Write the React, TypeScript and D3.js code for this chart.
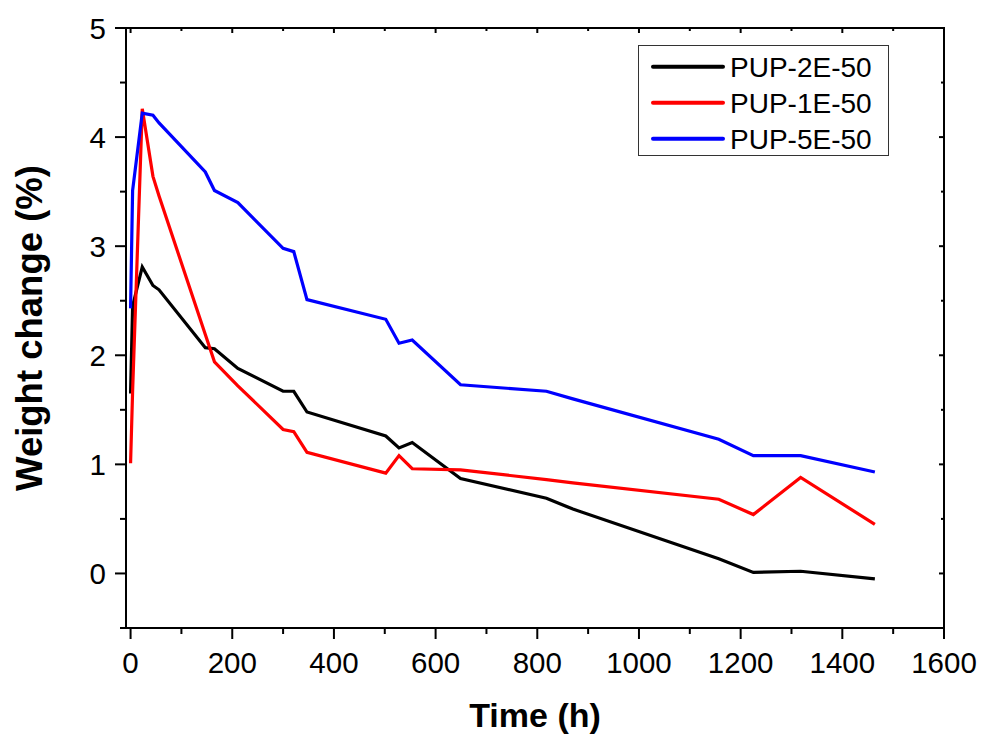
import React from "react";
import * as d3 from "d3";

const times = [0, 4, 23, 44, 56, 147, 165, 211, 300, 321, 347, 502, 528, 554, 649, 818, 870, 1157, 1225, 1318, 1464];
const pup2E = [1.65, 2.45, 2.81, 2.64, 2.6, 2.07, 2.06, 1.88, 1.67, 1.67, 1.48, 1.26, 1.15, 1.2, 0.87, 0.69, 0.59, 0.135, 0.01, 0.02, -0.05];
const pup1E = [1.01, 1.67, 4.26, 3.64, 3.46, 2.19, 1.94, 1.72, 1.32, 1.3, 1.11, 0.92, 1.08, 0.96, 0.95, 0.86, 0.83, 0.68, 0.54, 0.88, 0.45];
const pup5E = [2.43, 3.51, 4.22, 4.2, 4.13, 3.68, 3.51, 3.4, 2.98, 2.95, 2.51, 2.33, 2.11, 2.14, 1.73, 1.67, 1.6, 1.23, 1.08, 1.08, 0.93];
const seriesNames = ["PUP-2E-50", "PUP-1E-50", "PUP-5E-50"];
const seriesColors = ["#000000", "#ff0000", "#0000ff"];
const xMajor = [0, 200, 400, 600, 800, 1000, 1200, 1400, 1600];
const xMinor = [100, 300, 500, 700, 900, 1100, 1300, 1500];
const yMajor = [0, 1, 2, 3, 4, 5];
const yMinor = [-0.5, 0.5, 1.5, 2.5, 3.5, 4.5];

export default function App() {
  const W = 981, H = 736;
  const L = 126, R = 944, T = 28, B = 628;
  const x = d3.scaleLinear().domain([-9, 1600]).range([L, R]);
  const y = d3.scaleLinear().domain([-0.5, 5]).range([B, T]);
  const data = [pup2E, pup1E, pup5E];
  const line = d3.line<number>().x((_, i) => x(times[i])).y((v) => y(v));
  const font = "'Liberation Sans', Arial, Helvetica, sans-serif";
  return (
    <svg width={W} height={H} style={{ position: "absolute", left: 0, top: 0, background: "#fff" }} fontFamily={font}>
      <rect x={0} y={0} width={W} height={H} fill="#fff" />
      {data.map((d, k) => (
        <path key={k} d={line(d) || ""} fill="none" stroke={seriesColors[k]} strokeWidth={3.2} strokeLinejoin="miter" />
      ))}
      <rect x={L} y={T} width={R - L} height={B - T} fill="none" stroke="#000" strokeWidth={2} />
      {xMajor.map((t) => (
        <g key={"xm" + t}>
          <line x1={x(t)} x2={x(t)} y1={B} y2={B + 11} stroke="#000" strokeWidth={2} />
          <line x1={x(t)} x2={x(t)} y1={T} y2={T + 5} stroke="#000" strokeWidth={2} />
          <text x={x(t)} y={673} fontSize={29.5} textAnchor="middle" fill="#000">{t}</text>
        </g>
      ))}
      {xMinor.map((t) => (
        <g key={"xn" + t}>
          <line x1={x(t)} x2={x(t)} y1={B} y2={B + 6} stroke="#000" strokeWidth={2} />
          <line x1={x(t)} x2={x(t)} y1={T} y2={T + 3} stroke="#000" strokeWidth={2} />
        </g>
      ))}
      {yMajor.map((v) => (
        <g key={"ym" + v}>
          <line x1={L - 11} x2={L} y1={y(v)} y2={y(v)} stroke="#000" strokeWidth={2} />
          <line x1={R - 5} x2={R} y1={y(v)} y2={y(v)} stroke="#000" strokeWidth={2} />
          <text x={106} y={y(v)} dy="0.36em" fontSize={29.5} textAnchor="end" fill="#000">{v}</text>
        </g>
      ))}
      {yMinor.map((v) => (
        <g key={"yn" + v}>
          <line x1={L - 6} x2={L} y1={y(v)} y2={y(v)} stroke="#000" strokeWidth={2} />
          <line x1={R - 3} x2={R} y1={y(v)} y2={y(v)} stroke="#000" strokeWidth={2} />
        </g>
      ))}
      <text x={(L + R) / 2} y={727} fontSize={34} fontWeight="bold" textAnchor="middle" fill="#000">Time (h)</text>
      <text transform={`translate(42, ${(T + B) / 2}) rotate(-90)`} fontSize={36.5} fontWeight="bold" textAnchor="middle" fill="#000">Weight change (%)</text>
      <rect x={638.5} y={45.5} width={250} height={110} fill="#fff" stroke="#333" strokeWidth={1} />
      {seriesNames.map((n, k) => (
        <g key={n}>
          <line x1={653} x2={723} y1={66.7 + 36 * k} y2={66.7 + 36 * k} stroke={seriesColors[k]} strokeWidth={4} strokeLinecap="round" />
          <text x={730} y={66.7 + 36 * k} dy="0.36em" fontSize={28} fill="#000">{n}</text>
        </g>
      ))}
    </svg>
  );
}
